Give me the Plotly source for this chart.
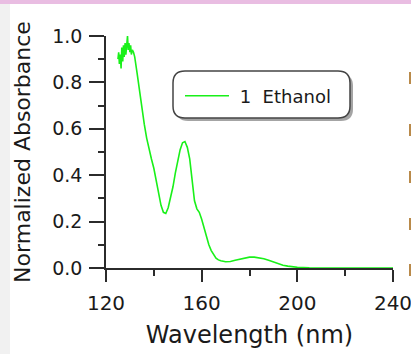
import plotly.graph_objects as go

# Absorption spectrum (normalized) of ethanol
wavelength_nm = [
    125.0, 125.3, 125.6, 126.0, 126.3, 126.6, 127.0, 127.3, 127.6, 128.0,
    128.3, 128.6, 129.0, 129.3, 129.6, 130.0, 130.3, 130.6, 131.0, 131.5,
    132, 133, 134, 135, 136, 137, 138, 139, 140, 141, 142, 143, 144, 145,
    146, 147, 148, 149, 150, 151, 152, 153, 154, 155, 156, 157, 158, 159,
    160, 161, 162, 163, 164, 165, 166, 167, 168, 170, 172, 174, 176, 178,
    180, 182, 184, 186, 188, 190, 192, 194, 196, 198, 200, 205, 210, 220,
    230, 240,
]
absorbance = [
    0.90, 0.93, 0.88, 0.92, 0.86, 0.95, 0.89, 0.96, 0.91, 0.97,
    0.92, 0.98, 1.00, 0.94, 0.97, 0.93, 0.96, 0.92, 0.94, 0.93,
    0.91, 0.84, 0.76, 0.68, 0.62, 0.56, 0.51, 0.47, 0.43, 0.38, 0.32, 0.27, 0.24, 0.235,
    0.26, 0.30, 0.35, 0.41, 0.46, 0.51, 0.54, 0.545, 0.52, 0.47, 0.38, 0.29, 0.255, 0.24,
    0.21, 0.17, 0.135, 0.10, 0.075, 0.055, 0.042, 0.035, 0.031, 0.027, 0.028, 0.033, 0.038, 0.043,
    0.047, 0.047, 0.045, 0.040, 0.033, 0.025, 0.018, 0.012, 0.008, 0.005, 0.003, 0.001, 0.0, 0.0,
    0.0, 0.0,
]
series_name = "\u00a01\u00a0\u00a0Ethanol"
x_ticks = [120, 160, 200, 240]
y_ticks = [0.0, 0.2, 0.4, 0.6, 0.8, 1.0]

W, H = 411, 354
L, R, T, B = 106, 18, 36, 86
PW, PH = W - L - R, H - T - B


def px_x(p):
    return (p - L) / PW


def px_y(p):
    return (H - B - p) / PH


def rounded_rect(x0, y0, x1, y1, r):
    """Rounded rectangle path in paper units, from pixel corners."""
    pts = [
        f"M {px_x(x0 + r)} {px_y(y0)}",
        f"L {px_x(x1 - r)} {px_y(y0)}",
        f"Q {px_x(x1)} {px_y(y0)} {px_x(x1)} {px_y(y0 + r)}",
        f"L {px_x(x1)} {px_y(y1 - r)}",
        f"Q {px_x(x1)} {px_y(y1)} {px_x(x1 - r)} {px_y(y1)}",
        f"L {px_x(x0 + r)} {px_y(y1)}",
        f"Q {px_x(x0)} {px_y(y1)} {px_x(x0)} {px_y(y1 - r)}",
        f"L {px_x(x0)} {px_y(y0 + r)}",
        f"Q {px_x(x0)} {px_y(y0)} {px_x(x0 + r)} {px_y(y0)}",
        "Z",
    ]
    return " ".join(pts)


FONT = "DejaVu Sans, Liberation Sans, Arial, sans-serif"
TXT = "#1a1a1a"
AX = "#2b2b2b"

fig = go.Figure()
fig.add_trace(go.Scatter(
    x=wavelength_nm, y=absorbance, mode="lines", name=series_name,
    line=dict(color="#19f019", width=1.6),
))

shapes = [
    # page decorations
    dict(type="rect", xref="paper", yref="paper", layer="below",
         x0=px_x(0), x1=px_x(W), y0=px_y(0), y1=px_y(4),
         fillcolor="#e9bde2", line=dict(width=0)),
    dict(type="rect", xref="paper", yref="paper", layer="below",
         x0=px_x(0), x1=px_x(10), y0=px_y(4), y1=px_y(H),
         fillcolor="#f1f1f1", line=dict(width=0)),
    # legend box with drop shadow
    dict(type="path", xref="paper", yref="paper", layer="below",
         path=rounded_rect(176, 74, 353, 121, 12),
         fillcolor="rgba(90,90,90,0.55)", line=dict(width=0)),
    dict(type="path", xref="paper", yref="paper", layer="below",
         path=rounded_rect(173, 71, 350, 118, 12),
         fillcolor="white", line=dict(color="#444444", width=1.5)),
]
# clipped marks of a neighbouring legend at the right edge
for yc in [78, 130, 177, 224, 270]:
    shapes.append(dict(type="line", xref="paper", yref="paper",
                       x0=px_x(410), x1=px_x(410), y0=px_y(yc - 6), y1=px_y(yc + 6),
                       line=dict(color="#b98a4a", width=2)))

fig.update_layout(
    width=W, height=H,
    margin=dict(l=L, r=R, t=T, b=B, pad=0),
    paper_bgcolor="white", plot_bgcolor="white",
    font=dict(family=FONT, color=TXT, size=20),
    shapes=shapes,
    showlegend=True,
    legend=dict(
        x=px_x(180), y=px_y(96), xanchor="left", yanchor="middle",
        bgcolor="rgba(0,0,0,0)", borderwidth=0,
        font=dict(family=FONT, size=18, color=TXT),
        itemwidth=44,
    ),
    xaxis=dict(
        range=[120, 240], tickvals=x_ticks, ticktext=[str(v) for v in x_ticks],
        showgrid=False, zeroline=False, automargin=False,
        showline=True, linecolor=AX, linewidth=1.5,
        ticks="outside", ticklen=12, tickwidth=1.5, tickcolor=AX,
        minor=dict(ticks="outside", ticklen=6, tickwidth=1.5, tickcolor=AX, dtick=20, tick0=120),
        tickfont=dict(size=20), ticklabelstandoff=4, ticklabeloverflow="allow",
        title=dict(text="Wavelength (nm)", font=dict(size=24), standoff=12),
    ),
    yaxis=dict(
        range=[0, 1.0], tickvals=y_ticks, ticktext=[f"{v:.1f}" for v in y_ticks],
        showgrid=False, zeroline=False, automargin=False,
        showline=True, linecolor=AX, linewidth=1.5,
        ticks="outside", ticklen=15, tickwidth=1.5, tickcolor=AX,
        minor=dict(ticks="outside", ticklen=6, tickwidth=1.5, tickcolor=AX, dtick=0.1, tick0=0),
        tickfont=dict(size=19), ticklabelstandoff=3, ticklabeloverflow="allow",
        title=dict(text="Normalized Absorbance", font=dict(size=22), standoff=16),
    ),
)

fig.write_html("out.html")
